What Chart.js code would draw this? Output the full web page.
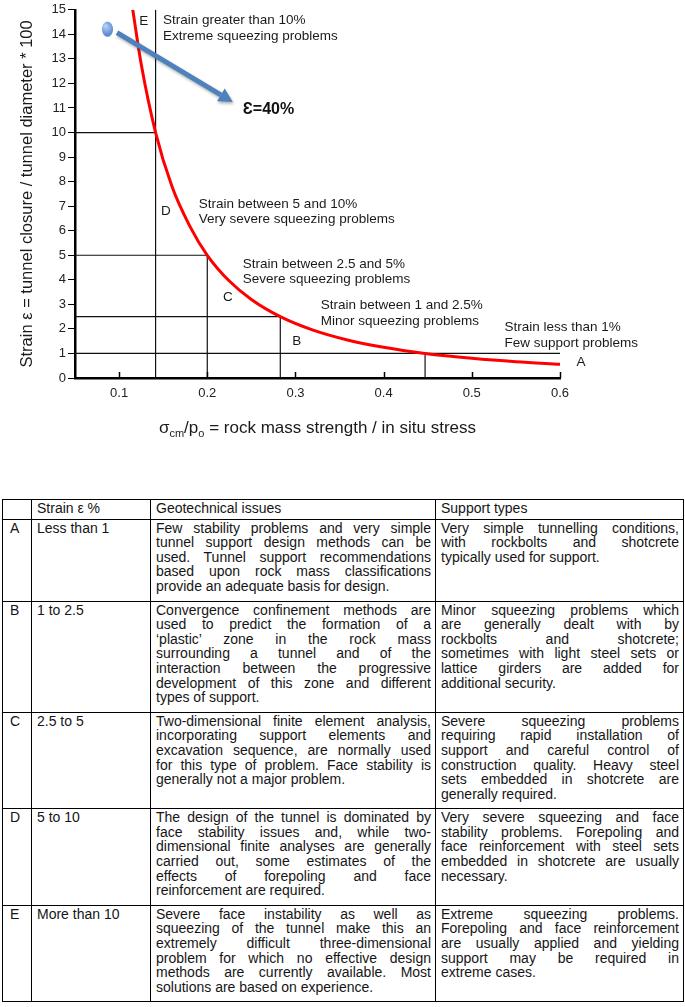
<!DOCTYPE html>
<html>
<head>
<meta charset="utf-8">
<script src="https://cdn.jsdelivr.net/npm/chart.js@4.4.1/dist/chart.umd.min.js"></script>
<style>
  html, body { margin: 0; padding: 0; background: #fff; }
  #wrap { position: absolute; left: 0; top: 0; width: 685px; height: 450px; }
  table {
    position: absolute; left: 2px; top: 499px; width: 681px;
    border-collapse: collapse; table-layout: fixed;
    font-family: "Liberation Sans", Arial, sans-serif; font-size: 14px; line-height: 14.6px; color: #151515;
  }
  td { border: 1px solid #000; vertical-align: top; padding: 1px 4px 7px 5px; }
  tr.head td { padding-bottom: 3px; }
  td.key { padding-left: 7px; }
  .j { text-align: justify; text-align-last: justify; white-space: nowrap; }
  .e { text-align: left; white-space: nowrap; }
</style>
</head>
<body>
<div id="wrap"><canvas id="squeezeChart"></canvas></div>
<table id="classTable">
  <colgroup><col style="width:29px"><col style="width:119px"><col style="width:285px"><col style="width:248px"></colgroup>
  <tbody></tbody>
</table>
<script>
// chart data
const xTicks = [0.1, 0.2, 0.3, 0.4, 0.5, 0.6];
const curveX = [0.1155, 0.125, 0.1414, 0.16, 0.18, 0.2, 0.225, 0.25, 0.2828, 0.32, 0.36, 0.4, 0.447, 0.5, 0.55, 0.6];
const curveY = [15, 12.8, 10, 7.8, 6.2, 5, 3.95, 3.2, 2.5, 1.95, 1.54, 1.25, 1.0, 0.8, 0.66, 0.56];
const boundaryX = [[0.1414, 0.1414], [0.05, 0.1414], [0.05, 0.2, 0.2], [0.05, 0.2828, 0.2828], [0.05, 0.6], [0.447, 0.447]];
const boundaryY = [[15, 0], [10, 10], [5, 5, 0], [2.5, 2.5, 0], [1, 1], [1, 0]];
const markerX = [0.0868];
const markerY = [14.21];
const arrowX = [0.0976, 0.229];
const arrowY = [14.07, 11.24];
const classLetters = ['E', 'D', 'C', 'B', 'A'];
const classNotes = [
  ['Strain greater than 10%', 'Extreme squeezing problems'],
  ['Strain between 5 and 10%', 'Very severe squeezing problems'],
  ['Strain between 2.5 and 5%', 'Severe squeezing problems'],
  ['Strain between 1 and 2.5%', 'Minor squeezing problems'],
  ['Strain less than 1%', 'Few support problems']
];
const arrowNote = 'Ɛ=40%';
const yTitle = 'Strain ε = tunnel closure / tunnel diameter * 100';

// table text
const rowKeys = ['A', 'B', 'C', 'D', 'E'];
const rowStrain = ['Less than 1', '1 to 2.5', '2.5 to 5', '5 to 10', 'More than 10'];
const geoLines = [
  ['Few stability problems and very simple', 'tunnel support design methods can be', 'used. Tunnel support recommendations', 'based upon rock mass classifications', 'provide an adequate basis for design.'],
  ['Convergence confinement methods are', 'used to predict the formation of a', '‘plastic’ zone in the rock mass', 'surrounding a tunnel and of the', 'interaction between the progressive', 'development of this zone and different', 'types of support.'],
  ['Two-dimensional finite element analysis,', 'incorporating support elements and', 'excavation sequence, are normally used', 'for this type of problem. Face stability is', 'generally not a major problem.'],
  ['The design of the tunnel is dominated by', 'face stability issues and, while two-', 'dimensional finite analyses are generally', 'carried out, some estimates of the', 'effects of forepoling and face', 'reinforcement are required.'],
  ['Severe face instability as well as', 'squeezing of the tunnel make this an', 'extremely difficult three-dimensional', 'problem for which no effective design', 'methods are currently available. Most', 'solutions are based on experience.']
];
const supLines = [
  ['Very simple tunnelling conditions,', 'with rockbolts and shotcrete', 'typically used for support.'],
  ['Minor squeezing problems which', 'are generally dealt with by', 'rockbolts and shotcrete;', 'sometimes with light steel sets or', 'lattice girders are added for', 'additional security.'],
  ['Severe squeezing problems', 'requiring rapid installation of', 'support and careful control of', 'construction quality. Heavy steel', 'sets embedded in shotcrete are', 'generally required.'],
  ['Very severe squeezing and face', 'stability problems. Forepoling and', 'face reinforcement  with steel sets', 'embedded in shotcrete are usually', 'necessary.'],
  ['Extreme squeezing problems.', 'Forepoling and face reinforcement', 'are usually applied and yielding', 'support may be required in', 'extreme cases.']
];

function cellHtml(lines) {
  return lines.map((t, i) => '<div class="' + (i < lines.length - 1 ? 'j' : 'e') + '">' + t + '</div>').join('');
}
const tbody = document.querySelector('#classTable tbody');
let html = '<tr class="head"><td></td><td>Strain ε %</td><td>Geotechnical issues</td><td>Support types</td></tr>';
rowKeys.forEach((k, i) => {
  html += '<tr><td class="key">' + k + '</td><td>' + rowStrain[i] + '</td><td>' + cellHtml(geoLines[i]) + '</td><td>' + cellHtml(supLines[i]) + '</td></tr>';
});
tbody.innerHTML = html;

// blue marker drawn as a point style
const dot = document.createElement('canvas');
dot.width = 13; dot.height = 17;
const dctx = dot.getContext('2d');
const dgrad = dctx.createRadialGradient(4.5, 5, 1, 6.5, 8.5, 9);
dgrad.addColorStop(0, '#b4d0f7');
dgrad.addColorStop(1, '#3b6cc2');
dctx.fillStyle = dgrad;
dctx.beginPath();
dctx.ellipse(6.5, 8.5, 5.6, 7.6, 0, 0, Math.PI * 2);
dctx.fill();

const FONT = '"Liberation Sans", Arial, sans-serif';
const notePlaces = [
  { lx: 0.128, ly: 14.52, tx: 0.1497, ty: 14.56 },
  { lx: 0.153, ly: 6.79, tx: 0.1904, ty: 7.08 },
  { lx: 0.2233, ly: 3.28, tx: 0.2403, ty: 4.65 },
  { lx: 0.3014, ly: 1.50, tx: 0.3286, ty: 2.95 },
  { lx: 0.6239, ly: 0.65, tx: 0.537, ty: 2.06 }
];

const notesPlugin = {
  id: 'notes',
  afterDatasetsDraw(chart) {
    const { ctx, chartArea } = chart;
    const x = chart.scales.x, y = chart.scales.y;
    ctx.save();
    // inward ticks on the x axis
    ctx.strokeStyle = '#000';
    ctx.lineWidth = 1.5;
    xTicks.forEach(v => {
      const px = Math.round(x.getPixelForValue(v)) + 0.5;
      ctx.beginPath();
      ctx.moveTo(px, chartArea.bottom);
      ctx.lineTo(px, chartArea.bottom - 6);
      ctx.stroke();
    });

    // class letters and notes
    ctx.fillStyle = '#1a1a1a';
    ctx.font = '13.5px ' + FONT;
    ctx.textBaseline = 'middle';
    classLetters.forEach((l, i) => {
      const p = notePlaces[i];
      ctx.textAlign = 'center';
      ctx.fillText(l, x.getPixelForValue(p.lx), y.getPixelForValue(p.ly));
      ctx.textAlign = 'left';
      const tx = x.getPixelForValue(p.tx), ty = y.getPixelForValue(p.ty);
      classNotes[i].forEach((t, j) => ctx.fillText(t, tx, ty + j * 15.5));
    });

    // arrow
    const x0 = x.getPixelForValue(arrowX[0]), y0 = y.getPixelForValue(arrowY[0]);
    const x1 = x.getPixelForValue(arrowX[1]), y1 = y.getPixelForValue(arrowY[1]);
    const ang = Math.atan2(y1 - y0, x1 - x0);
    const head = 14, half = 7.5;
    const bx = x1 - head * Math.cos(ang), by = y1 - head * Math.sin(ang);
    ctx.shadowColor = 'rgba(0,0,0,0.3)';
    ctx.shadowBlur = 3;
    ctx.shadowOffsetX = 1;
    ctx.shadowOffsetY = 2;
    ctx.strokeStyle = '#4f81bd';
    ctx.fillStyle = '#4f81bd';
    ctx.lineWidth = 5;
    ctx.lineCap = 'butt';
    ctx.beginPath();
    ctx.moveTo(x0, y0);
    ctx.lineTo(bx, by);
    ctx.stroke();
    ctx.beginPath();
    ctx.moveTo(x1, y1);
    ctx.lineTo(bx + half * Math.sin(ang), by - half * Math.cos(ang));
    ctx.lineTo(bx - half * Math.sin(ang), by + half * Math.cos(ang));
    ctx.closePath();
    ctx.fill();
    ctx.shadowColor = 'transparent';

    ctx.fillStyle = '#111';
    ctx.font = 'bold 16px ' + FONT;
    ctx.textAlign = 'left';
    ctx.fillText(arrowNote, x.getPixelForValue(0.2403), y.getPixelForValue(10.92));
    ctx.restore();
  },
  afterDraw(chart) {
    // x axis title with subscripts
    const { ctx, chartArea } = chart;
    const parts = [
      { t: 'σ', s: 17, dy: 0 },
      { t: 'cm', s: 11, dy: 4 },
      { t: '/p', s: 17, dy: 0 },
      { t: 'o', s: 11, dy: 4 },
      { t: ' = rock mass strength / in situ stress', s: 17, dy: 0 }
    ];
    ctx.save();
    ctx.fillStyle = '#1a1a1a';
    ctx.textBaseline = 'alphabetic';
    ctx.textAlign = 'left';
    let total = 0;
    parts.forEach(p => { ctx.font = p.s + 'px ' + FONT; p.w = ctx.measureText(p.t).width; total += p.w; });
    let cx = (chartArea.left + chartArea.right) / 2 - total / 2;
    const base = 433;
    parts.forEach(p => {
      ctx.font = p.s + 'px ' + FONT;
      ctx.fillText(p.t, cx, base + p.dy);
      cx += p.w;
    });
    ctx.restore();
  }
};

const datasets = [];
datasets.push({
  data: markerX.map((v, i) => ({ x: v, y: markerY[i] })),
  showLine: false,
  pointStyle: dot,
  pointRadius: 8,
  order: -1
});
datasets.push({
  data: curveX.map((v, i) => ({ x: v, y: curveY[i] })),
  showLine: true,
  borderColor: '#ff0000',
  borderWidth: 3,
  pointRadius: 0,
  cubicInterpolationMode: 'monotone',
  order: 0
});
boundaryX.forEach((xs, k) => {
  datasets.push({
    data: xs.map((v, i) => ({ x: v, y: boundaryY[k][i] })),
    showLine: true,
    borderColor: '#111',
    borderWidth: 1.2,
    pointRadius: 0,
    tension: 0,
    order: 1
  });
});

const ctx = document.getElementById('squeezeChart').getContext('2d');
new Chart(ctx, {
  type: 'scatter',
  data: { datasets },
  options: {
    responsive: true,
    maintainAspectRatio: false,
    animation: false,
    layout: { padding: { top: 7, right: 125, left: 0, bottom: 0 } },
    plugins: { legend: { display: false }, tooltip: { enabled: false } },
    scales: {
      x: {
        type: 'linear',
        min: 0.05,
        max: 0.6,
        afterBuildTicks: s => { s.ticks = xTicks.map(v => ({ value: v })); },
        afterFit: s => { s.height = 72; },
        border: { display: true, color: '#000', width: 2.5 },
        grid: { display: true, drawOnChartArea: false, drawTicks: false },
        ticks: { padding: 8, color: '#222', font: { size: 13, family: FONT }, callback: v => v.toFixed(1), maxRotation: 0 }
      },
      y: {
        min: 0,
        max: 15,
        afterFit: s => { s.width = 75; },
        border: { display: true, color: '#000', width: 2.5 },
        grid: { drawOnChartArea: false, drawTicks: true, tickLength: 7, color: '#000', lineWidth: 1 },
        ticks: { stepSize: 1, padding: 2, color: '#222', font: { size: 13, family: FONT } },
        title: { display: true, text: yTitle, color: '#1a1a1a', font: { size: 16.5, family: FONT }, padding: { top: 18, bottom: 0 } }
      }
    }
  },
  plugins: [notesPlugin]
});
</script>
</body>
</html>
